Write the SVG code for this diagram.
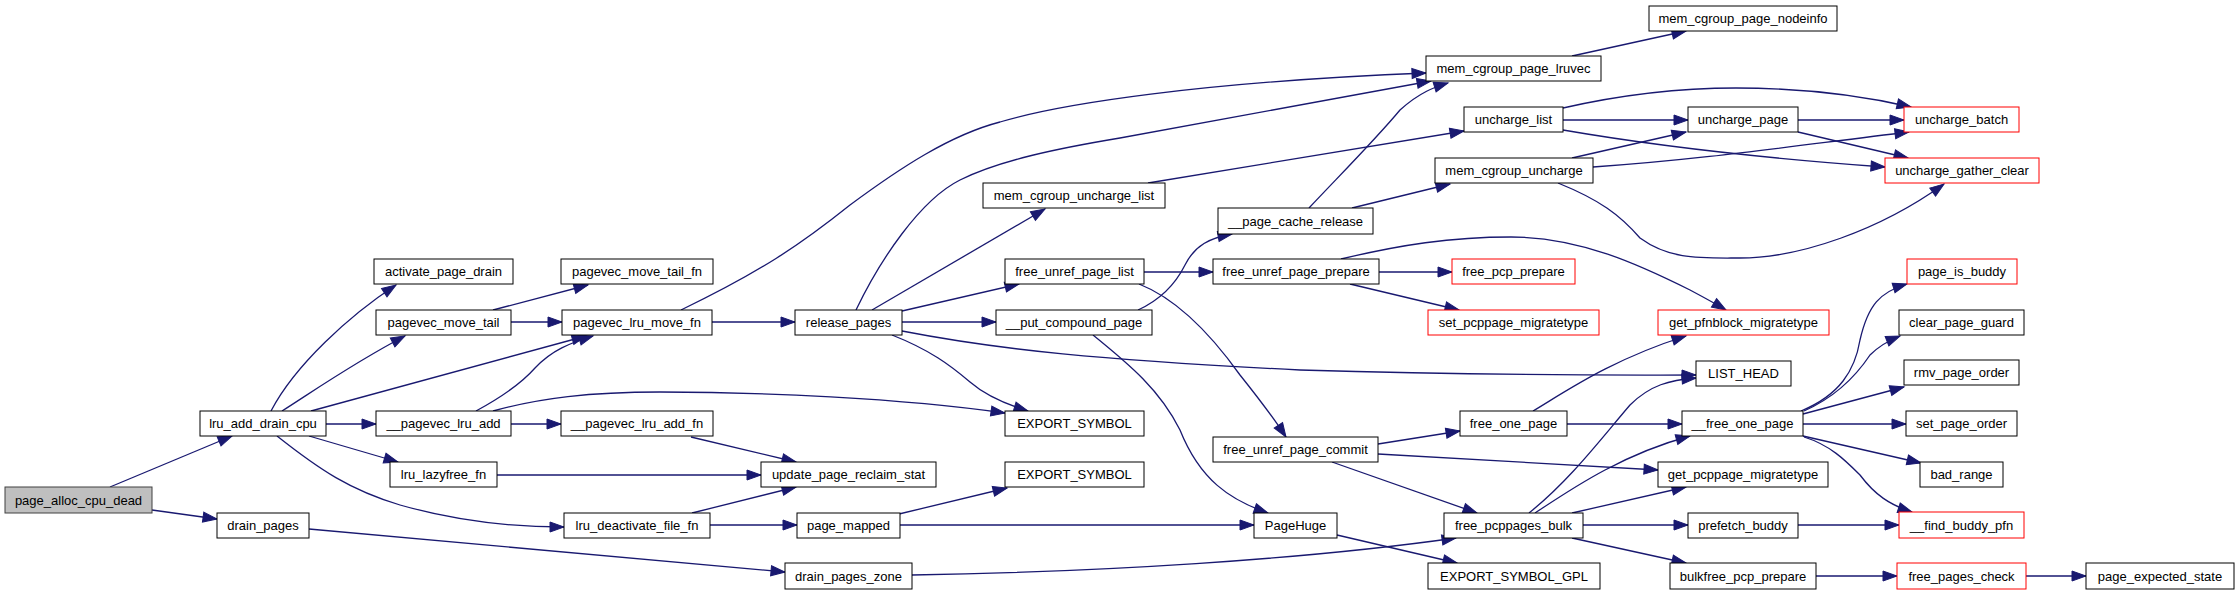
<svg xmlns="http://www.w3.org/2000/svg" width="2239" height="595" viewBox="0 0 2239 595">
<style>
.n rect{fill:#fff;stroke:#000;stroke-width:1}
.n.r rect{stroke:#ff0000}
.n.g rect{fill:#bfbfbf;stroke:#404040}
.n text{font-family:"Liberation Sans",Arial,sans-serif;font-size:13px;text-anchor:middle;fill:#000}
#edges path{fill:none;stroke:#191970;stroke-width:1.3;marker-end:url(#a)}
</style>
<defs>
<marker id="a" markerUnits="userSpaceOnUse" markerWidth="14" markerHeight="10" viewBox="0 0 14 10" refX="14" refY="5" orient="auto" style="overflow:visible">
<path d="M0,0 L14,5 L0,10 z" fill="#191970" stroke="#191970" stroke-width="1"/>
</marker>
</defs>
<rect width="2239" height="595" fill="#fff"/>
<g id="edges">
<path d="M110,487 L232,436"/>
<path d="M152,510 L217,519"/>
<path d="M271,411 C295,365 350,315 396,285"/>
<path d="M282,411 C315,390 355,362 405,336"/>
<path d="M311,411 L586,336"/>
<path d="M326,424 L376,424"/>
<path d="M309,436 L398,462"/>
<path d="M277,436 C320,470 350,490 400,505 C460,522 520,527 564,527"/>
<path d="M309,529 L785,572"/>
<path d="M493,310 L588,285"/>
<path d="M511,322 L562,322"/>
<path d="M476,411 C500,398 520,385 535,368 C552,350 570,343 593,336"/>
<path d="M493,411 C540,398 590,392 660,392 C760,392 900,398 1005,413"/>
<path d="M511,424 L561,424"/>
<path d="M691,437 L796,462"/>
<path d="M497,475 L761,475"/>
<path d="M692,513 L796,487"/>
<path d="M710,525 L797,525"/>
<path d="M712,322 L795,322"/>
<path d="M681,310 C760,272 800,245 850,205 C900,168 950,135 1000,122 C1060,104 1200,82 1426,73"/>
<path d="M856,310 C880,260 920,200 960,180 C1000,160 1060,148 1120,138 C1250,115 1350,95 1431,81"/>
<path d="M1572,56 L1686,31"/>
<path d="M872,310 L1045,209"/>
<path d="M1148,183 L1464,131"/>
<path d="M902,311 L1019,284"/>
<path d="M902,322 L996,322"/>
<path d="M892,335 C930,350 950,365 970,382 C985,395 1005,404 1028,411"/>
<path d="M902,331 C1000,350 1100,360 1300,370 C1500,376 1600,375 1696,375"/>
<path d="M1144,272 L1213,272"/>
<path d="M1139,284 C1180,300 1215,340 1240,375 C1260,400 1275,420 1286,437"/>
<path d="M1138,310 C1160,300 1175,285 1185,265 C1195,245 1210,238 1232,234"/>
<path d="M1093,335 C1130,365 1160,390 1180,430 C1200,480 1230,500 1268,513"/>
<path d="M899,514 L1007,488"/>
<path d="M900,525 L1254,525"/>
<path d="M1337,535 L1457,563"/>
<path d="M912,575 C1100,572 1300,560 1456,538"/>
<path d="M1309,208 C1340,175 1375,140 1400,110 C1420,92 1435,87 1448,83"/>
<path d="M1352,208 L1450,184"/>
<path d="M1379,272 L1452,272"/>
<path d="M1350,284 L1459,310"/>
<path d="M1341,259 C1400,245 1450,237 1511,237 C1580,237 1640,265 1690,290 C1705,298 1716,304 1726,310"/>
<path d="M1563,108 C1620,95 1680,88 1736,88 C1800,88 1860,95 1911,107"/>
<path d="M1563,120 L1688,120"/>
<path d="M1563,130 C1650,145 1760,158 1885,167"/>
<path d="M1798,120 L1904,120"/>
<path d="M1798,132 L1908,158"/>
<path d="M1572,158 L1686,132"/>
<path d="M1593,167 C1700,160 1800,145 1909,132"/>
<path d="M1558,183 C1600,200 1620,215 1640,238 C1670,260 1700,258 1740,258 C1800,258 1880,230 1944,184"/>
<path d="M1378,444 L1460,431"/>
<path d="M1378,454 L1658,470"/>
<path d="M1332,462 L1477,513"/>
<path d="M1533,411 C1565,392 1610,360 1686,336"/>
<path d="M1567,424 L1682,424"/>
<path d="M1529,513 C1570,480 1600,440 1630,405 C1650,385 1670,380 1696,378"/>
<path d="M1535,513 C1570,490 1620,455 1690,436"/>
<path d="M1572,513 L1686,487"/>
<path d="M1583,525 L1688,525"/>
<path d="M1572,538 L1686,563"/>
<path d="M1801,411 C1840,395 1855,370 1860,340 C1868,305 1880,292 1907,284"/>
<path d="M1804,411 C1840,395 1860,370 1870,355 C1880,345 1890,340 1900,336"/>
<path d="M1803,414 L1904,387"/>
<path d="M1803,424 L1906,424"/>
<path d="M1803,436 L1921,463"/>
<path d="M1804,437 C1830,445 1845,460 1860,475 C1875,495 1890,505 1912,512"/>
<path d="M1798,525 L1899,525"/>
<path d="M1816,576 L1897,576"/>
<path d="M2026,576 L2086,576"/>
</g>
<g id="n1" class="n g"><rect x="5" y="487" width="147" height="26"/><text x="78.5" y="504.5">page_alloc_cpu_dead</text></g>
<g id="n2" class="n"><rect x="200" y="411" width="126" height="25"/><text x="263" y="428">lru_add_drain_cpu</text></g>
<g id="n3" class="n"><rect x="217" y="513" width="92" height="25"/><text x="263" y="530">drain_pages</text></g>
<g id="n4" class="n"><rect x="374" y="259" width="139" height="25"/><text x="443.5" y="276">activate_page_drain</text></g>
<g id="n5" class="n"><rect x="376" y="310" width="135" height="25"/><text x="443.5" y="327">pagevec_move_tail</text></g>
<g id="n6" class="n"><rect x="376" y="411" width="135" height="25"/><text x="443.5" y="428">__pagevec_lru_add</text></g>
<g id="n7" class="n"><rect x="390" y="462" width="107" height="25"/><text x="443.5" y="479">lru_lazyfree_fn</text></g>
<g id="n8" class="n"><rect x="561" y="259" width="152" height="25"/><text x="637" y="276">pagevec_move_tail_fn</text></g>
<g id="n9" class="n"><rect x="562" y="310" width="150" height="25"/><text x="637" y="327">pagevec_lru_move_fn</text></g>
<g id="n10" class="n"><rect x="561" y="411" width="152" height="25"/><text x="637" y="428">__pagevec_lru_add_fn</text></g>
<g id="n11" class="n"><rect x="761" y="462" width="175" height="25"/><text x="848.5" y="479">update_page_reclaim_stat</text></g>
<g id="n12" class="n"><rect x="564" y="513" width="146" height="25"/><text x="637" y="530">lru_deactivate_file_fn</text></g>
<g id="n13" class="n"><rect x="797" y="513" width="103" height="25"/><text x="848.5" y="530">page_mapped</text></g>
<g id="n14" class="n"><rect x="785" y="563" width="127" height="26"/><text x="848.5" y="580.5">drain_pages_zone</text></g>
<g id="n15" class="n"><rect x="795" y="310" width="107" height="25"/><text x="848.5" y="327">release_pages</text></g>
<g id="n16" class="n"><rect x="1426" y="56" width="175" height="25"/><text x="1513.5" y="73">mem_cgroup_page_lruvec</text></g>
<g id="n17" class="n"><rect x="983" y="183" width="182" height="25"/><text x="1074" y="200">mem_cgroup_uncharge_list</text></g>
<g id="n18" class="n"><rect x="1218" y="208" width="155" height="26"/><text x="1295.5" y="225.5">__page_cache_release</text></g>
<g id="n19" class="n"><rect x="1005" y="259" width="139" height="25"/><text x="1074.5" y="276">free_unref_page_list</text></g>
<g id="n20" class="n"><rect x="1213" y="259" width="166" height="25"/><text x="1296" y="276">free_unref_page_prepare</text></g>
<g id="n21" class="n r"><rect x="1452" y="259" width="123" height="25"/><text x="1513.5" y="276">free_pcp_prepare</text></g>
<g id="n22" class="n"><rect x="1464" y="107" width="99" height="25"/><text x="1513.5" y="124">uncharge_list</text></g>
<g id="n23" class="n"><rect x="1435" y="158" width="158" height="25"/><text x="1514" y="175">mem_cgroup_uncharge</text></g>
<g id="n24" class="n"><rect x="1649" y="6" width="188" height="25"/><text x="1743" y="23">mem_cgroup_page_nodeinfo</text></g>
<g id="n25" class="n"><rect x="1688" y="107" width="110" height="25"/><text x="1743" y="124">uncharge_page</text></g>
<g id="n26" class="n r"><rect x="1904" y="107" width="115" height="25"/><text x="1961.5" y="124">uncharge_batch</text></g>
<g id="n27" class="n r"><rect x="1885" y="158" width="154" height="25"/><text x="1962" y="175">uncharge_gather_clear</text></g>
<g id="n28" class="n r"><rect x="1907" y="259" width="110" height="25"/><text x="1962" y="276">page_is_buddy</text></g>
<g id="n29" class="n"><rect x="1899" y="310" width="125" height="25"/><text x="1961.5" y="327">clear_page_guard</text></g>
<g id="n30" class="n"><rect x="1904" y="360" width="115" height="25"/><text x="1961.5" y="377">rmv_page_order</text></g>
<g id="n31" class="n"><rect x="1906" y="411" width="111" height="25"/><text x="1961.5" y="428">set_page_order</text></g>
<g id="n32" class="n"><rect x="1920" y="462" width="83" height="25"/><text x="1961.5" y="479">bad_range</text></g>
<g id="n33" class="n r"><rect x="1899" y="512" width="125" height="26"/><text x="1961.5" y="529.5">__find_buddy_pfn</text></g>
<g id="n34" class="n r"><rect x="1897" y="563" width="129" height="26"/><text x="1961.5" y="580.5">free_pages_check</text></g>
<g id="n35" class="n"><rect x="2086" y="563" width="148" height="26"/><text x="2160" y="580.5">page_expected_state</text></g>
<g id="n36" class="n r"><rect x="1428" y="310" width="171" height="25"/><text x="1513.5" y="327">set_pcppage_migratetype</text></g>
<g id="n37" class="n r"><rect x="1658" y="310" width="171" height="25"/><text x="1743.5" y="327">get_pfnblock_migratetype</text></g>
<g id="n38" class="n"><rect x="1696" y="361" width="95" height="25"/><text x="1743.5" y="378">LIST_HEAD</text></g>
<g id="n39" class="n"><rect x="1460" y="411" width="107" height="25"/><text x="1513.5" y="428">free_one_page</text></g>
<g id="n40" class="n"><rect x="1682" y="411" width="121" height="25"/><text x="1742.5" y="428">__free_one_page</text></g>
<g id="n41" class="n"><rect x="1658" y="462" width="170" height="25"/><text x="1743" y="479">get_pcppage_migratetype</text></g>
<g id="n42" class="n"><rect x="1444" y="513" width="139" height="25"/><text x="1513.5" y="530">free_pcppages_bulk</text></g>
<g id="n43" class="n"><rect x="1688" y="513" width="110" height="25"/><text x="1743" y="530">prefetch_buddy</text></g>
<g id="n44" class="n"><rect x="1428" y="563" width="172" height="26"/><text x="1514" y="580.5">EXPORT_SYMBOL_GPL</text></g>
<g id="n45" class="n"><rect x="1670" y="563" width="146" height="26"/><text x="1743" y="580.5">bulkfree_pcp_prepare</text></g>
<g id="n46" class="n"><rect x="996" y="310" width="156" height="25"/><text x="1074" y="327">__put_compound_page</text></g>
<g id="n47" class="n"><rect x="1005" y="411" width="139" height="25"/><text x="1074.5" y="428">EXPORT_SYMBOL</text></g>
<g id="n48" class="n"><rect x="1005" y="462" width="139" height="25"/><text x="1074.5" y="479">EXPORT_SYMBOL</text></g>
<g id="n49" class="n"><rect x="1213" y="437" width="165" height="25"/><text x="1295.5" y="454">free_unref_page_commit</text></g>
<g id="n50" class="n"><rect x="1254" y="513" width="83" height="25"/><text x="1295.5" y="530">PageHuge</text></g>
</svg>
